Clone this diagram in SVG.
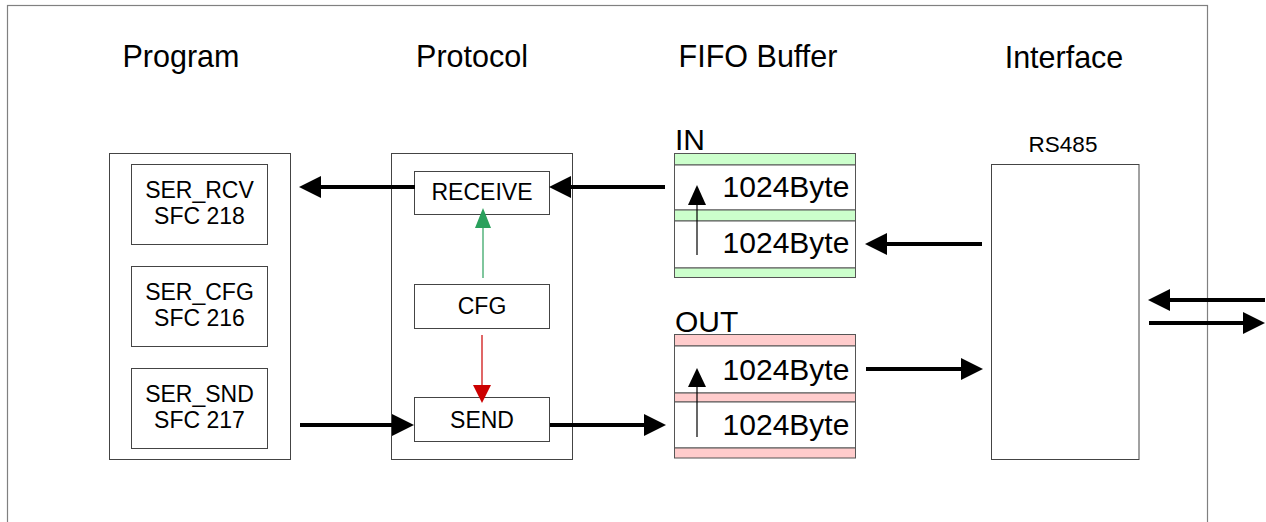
<svg xmlns="http://www.w3.org/2000/svg" width="1266" height="522" viewBox="0 0 1266 522">
<defs>
<style>
text{font-family:"Liberation Sans",Arial,sans-serif;fill:#000}
.hd{font-size:30.5px;text-anchor:middle}
.lb{font-size:23px;text-anchor:middle}
.by{font-size:30px;text-anchor:middle}
.box{fill:#fff;stroke:#444;stroke-width:1}
.frame{fill:none;stroke:#808080;stroke-width:1.2}
.g{fill:#ccffcc;stroke:#555;stroke-width:1}
.p{fill:#ffcccc;stroke:#555;stroke-width:1}
.w{fill:#fff;stroke:#555;stroke-width:1}
.thick{stroke:#000;stroke-width:4;fill:none}
</style>
<marker id="ah" markerUnits="userSpaceOnUse" markerWidth="24" markerHeight="24" refX="12" refY="11" orient="auto" viewBox="0 0 24 24">
<path d="M0,0 L22,11 L0,22 Z" fill="#000"/>
</marker>
</defs>
<rect width="1266" height="522" fill="#fff"/>
<rect class="frame" x="7.5" y="5.5" width="1200" height="530"/>

<g id="headers">
<text class="hd" x="181" y="67">Program</text>
<text class="hd" x="472" y="67">Protocol</text>
<text class="hd" x="758" y="67">FIFO Buffer</text>
<text class="hd" x="1064" y="68">Interface</text>
</g>

<g id="program">
<rect class="box" x="109.5" y="153.5" width="181" height="306"/>
<g id="ser_rcv">
<rect class="box" x="131.5" y="164.5" width="136" height="80"/>
<text class="lb" x="199.5" y="198">SER_RCV</text>
<text class="lb" x="199.5" y="224">SFC 218</text>
</g>
<g id="ser_cfg">
<rect class="box" x="131.5" y="266.5" width="136" height="80"/>
<text class="lb" x="199.5" y="300">SER_CFG</text>
<text class="lb" x="199.5" y="326">SFC 216</text>
</g>
<g id="ser_snd">
<rect class="box" x="131.5" y="368.5" width="136" height="80"/>
<text class="lb" x="199.5" y="402">SER_SND</text>
<text class="lb" x="199.5" y="428">SFC 217</text>
</g>
</g>

<g id="protocol">
<rect class="box" x="391.5" y="153.5" width="181" height="306"/>
<g id="receive">
<rect class="box" x="414.5" y="171.5" width="135" height="43"/>
<text class="lb" x="482" y="200">RECEIVE</text>
</g>
<g id="cfg">
<rect class="box" x="414.5" y="284.5" width="135" height="44"/>
<text class="lb" x="482" y="314">CFG</text>
</g>
<g id="send">
<rect class="box" x="414.5" y="397.5" width="135" height="44"/>
<text class="lb" x="482" y="428">SEND</text>
</g>
</g>

<g id="fifo_in">
<text x="675" y="150" style="font-size:30px">IN</text>
<rect class="g" x="674.5" y="153.5" width="181" height="11.5"/>
<rect class="w" x="674.5" y="165" width="181" height="45"/>
<rect class="g" x="674.5" y="210" width="181" height="11"/>
<rect class="w" x="674.5" y="221" width="181" height="47"/>
<rect class="g" x="674.5" y="268" width="181" height="9.5"/>
<text class="by" x="786" y="197">1024Byte</text>
<text class="by" x="786" y="253">1024Byte</text>
<line x1="697" y1="255" x2="697" y2="204" stroke="#000" stroke-width="1.2"/>
<polygon points="688,205 706,205 697,185" fill="#000"/>
</g>

<g id="fifo_out">
<text x="675" y="332" style="font-size:30px">OUT</text>
<rect class="p" x="674.5" y="334.5" width="181" height="11.5"/>
<rect class="w" x="674.5" y="346" width="181" height="47"/>
<rect class="p" x="674.5" y="393" width="181" height="9"/>
<rect class="w" x="674.5" y="402" width="181" height="46"/>
<rect class="p" x="674.5" y="448" width="181" height="10"/>
<text class="by" x="786" y="380">1024Byte</text>
<text class="by" x="786" y="435">1024Byte</text>
<line x1="697" y1="437" x2="697" y2="386" stroke="#000" stroke-width="1.2"/>
<polygon points="688,387 706,387 697,368" fill="#000"/>
</g>

<g id="interface">
<text x="1063" y="152" style="font-size:22.5px;text-anchor:middle">RS485</text>
<rect class="box" x="991.5" y="164.5" width="147.5" height="295"/>
</g>

<g id="connectors">
<line class="thick" x1="415" y1="187" x2="309" y2="187" marker-end="url(#ah)"/>
<line class="thick" x1="665" y1="187" x2="559" y2="187" marker-end="url(#ah)"/>
<line class="thick" x1="982" y1="244" x2="875" y2="244" marker-end="url(#ah)"/>
<line class="thick" x1="866" y1="369" x2="973" y2="369" marker-end="url(#ah)"/>
<line class="thick" x1="300" y1="425" x2="404" y2="425" marker-end="url(#ah)"/>
<line class="thick" x1="550" y1="425" x2="656" y2="425" marker-end="url(#ah)"/>
<line class="thick" x1="1265" y1="300" x2="1158" y2="300" marker-end="url(#ah)"/>
<line class="thick" x1="1149" y1="323" x2="1255" y2="323" marker-end="url(#ah)"/>
<line x1="483" y1="278" x2="483" y2="227" stroke="#2aa05c" stroke-width="1.2"/>
<polygon points="475,228 491,228 483,208" fill="#2aa05c"/>
<line x1="482" y1="335" x2="482" y2="386" stroke="#cc0000" stroke-width="1.2"/>
<polygon points="473,385 491,385 482,403" fill="#cc0000"/>
</g>
</svg>
